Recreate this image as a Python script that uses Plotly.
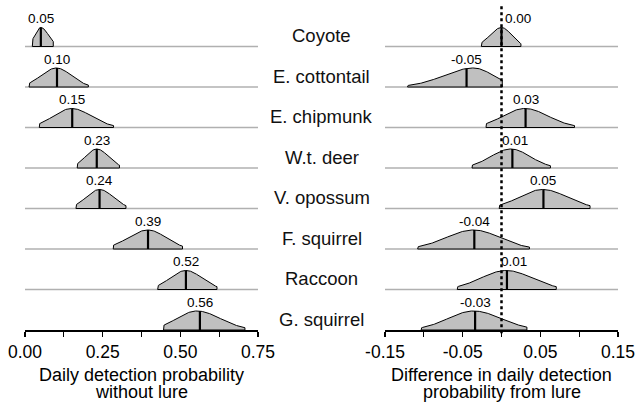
import numpy as np
import plotly.graph_objects as go

# ---------------- data ----------------
species = ["Coyote", "E. cottontail", "E. chipmunk", "W.t. deer",
           "V. opossum", "F. squirrel", "Raccoon", "G. squirrel"]

# left panel: daily detection probability without lure
base_median = [0.051, 0.103, 0.152, 0.231, 0.240, 0.396, 0.518, 0.563]
base_mode = [0.051, 0.101, 0.150, 0.231, 0.240, 0.396, 0.518, 0.553]
base_lo = [0.0235, 0.013, 0.046, 0.168, 0.164, 0.284, 0.427, 0.446]
base_hi = [0.091, 0.204, 0.285, 0.304, 0.325, 0.507, 0.618, 0.708]
base_end_l = [0.35, 0.20, 0.20, 0.22, 0.20, 0.20, 0.20, 0.25]
base_end_r = [0.26, 0.10, 0.10, 0.15, 0.15, 0.15, 0.15, 0.12]
base_labels = ["0.05", "0.10", "0.15", "0.23", "0.24", "0.39", "0.52", "0.56"]

# right panel: difference in daily detection probability from lure
diff_median = [0.000, -0.045, 0.031, 0.014, 0.054, -0.035, 0.007, -0.034]
diff_mode = [0.000, -0.036, 0.030, 0.012, 0.053, -0.036, 0.006, -0.036]
diff_lo = [-0.026, -0.121, -0.020, -0.038, -0.003, -0.108, -0.057, -0.1035]
diff_hi = [0.025, 0.001, 0.094, 0.063, 0.114, 0.036, 0.0705, 0.0327]
diff_end_l = [0.20, 0.08, 0.20, 0.15, 0.17, 0.12, 0.15, 0.12]
diff_end_r = [0.15, 0.35, 0.10, 0.12, 0.15, 0.10, 0.15, 0.15]
diff_labels = ["0.00", "-0.05", "0.03", "0.01", "0.05", "-0.04", "0.01", "-0.03"]

left_ticks = [0, 0.125, 0.25, 0.375, 0.5, 0.625, 0.75]
left_ticktext = ["0.00", "", "0.25", "", "0.50", "", "0.75"]
right_ticks = [-0.15, -0.10, -0.05, 0.0, 0.05, 0.10, 0.15]
right_ticktext = ["-0.15", "", "-0.05", "", "0.05", "", "0.15"]

# ---------------- styling ----------------
FONT = "Liberation Sans, Arial, sans-serif"
FILL = "#c0c0c0"
BASE = "#b0b0b0"
H = 0.47  # peak height in row units
N = len(species)
# label nudges (px) so labels clear the dotted zero line
base_label_dx = [0] * N
diff_label_dx = [16, 0, 0, 3, 0, 0, 7, 0]


def ridge(lo, hi, mode, rl, rr, n=160):
    kl = np.sqrt(-2 * np.log(rl))
    kr = np.sqrt(-2 * np.log(rr))
    sl = (mode - lo) / kl
    sr = (hi - mode) / kr
    x = np.linspace(lo, hi, n)
    z = np.where(x < mode, (x - mode) / sl, (x - mode) / sr)
    d = np.exp(-0.5 * z ** 2)
    return x, d, (sl, sr)


def dens_at(v, mode, s):
    sl, sr = s
    z = (v - mode) / (sl if v < mode else sr)
    return float(np.exp(-0.5 * z ** 2))


fig = go.Figure()
shapes = []
annotations = []

panels = [
    ("x", "y", base_median, base_mode, base_lo, base_hi, base_end_l, base_end_r, base_labels,
     base_label_dx, (0, 0.75)),
    ("x2", "y2", diff_median, diff_mode, diff_lo, diff_hi, diff_end_l, diff_end_r, diff_labels,
     diff_label_dx, (-0.15, 0.15)),
]

for xa, ya, med, mode, lo, hi, el, er, labs, ldx, xr in panels:
    for i in range(N):
        yb = N - 1 - i
        if yb > 0:
            shapes.append(dict(type="line", xref=xa, yref=ya, x0=xr[0], x1=xr[1],
                               y0=yb, y1=yb, layer="below",
                               line=dict(color=BASE, width=1.3)))
        x, d, s = ridge(lo[i], hi[i], mode[i], el[i], er[i])
        px = np.concatenate([[lo[i]], x, [hi[i], lo[i]]])
        py = np.concatenate([[yb], yb + H * d, [yb, yb]])
        fig.add_trace(go.Scatter(x=px, y=py, xaxis=xa, yaxis=ya, mode="lines",
                                 fill="toself", fillcolor=FILL,
                                 line=dict(color="black", width=1),
                                 hoverinfo="skip", showlegend=False))
        hm = H * dens_at(med[i], mode[i], s)
        fig.add_trace(go.Scatter(x=[med[i], med[i]], y=[yb, yb + hm], xaxis=xa, yaxis=ya,
                                 mode="lines", line=dict(color="black", width=2.2),
                                 hoverinfo="skip", showlegend=False))
        annotations.append(dict(x=med[i], y=yb + H, xref=xa, yref=ya, text=labs[i],
                                showarrow=False, xanchor="center", yanchor="bottom",
                                yshift=-1, xshift=ldx[i],
                                font=dict(family=FONT, size=13.5, color="black")))

shapes.append(dict(type="line", xref="x2", yref="paper", x0=0, x1=0, y0=-0.01, y1=1,
                   line=dict(color="black", width=2.5, dash="3px,3px")))

for i, sp in enumerate(species):
    yb = N - 1 - i
    annotations.append(dict(x=0.5, xref="paper", y=yb, yref="y", text=sp,
                            showarrow=False, xanchor="center", yanchor="middle", yshift=11,
                            font=dict(family=FONT, size=18.5, color="#111")))

for xc, l1, l2 in [(0.1964, "Daily detection probability", "without lure"),
                   (0.8036, "Difference in daily detection", "probability from lure")]:
    annotations.append(dict(x=xc, xref="paper", y=0, yref="paper", text=l1, showarrow=False,
                            xanchor="center", yanchor="middle", yshift=-45,
                            font=dict(family=FONT, size=18, color="black")))
    annotations.append(dict(x=xc, xref="paper", y=0, yref="paper", text=l2, showarrow=False,
                            xanchor="center", yanchor="middle", yshift=-62,
                            font=dict(family=FONT, size=18, color="black")))

axis_common = dict(showgrid=False, zeroline=False, showline=True, linecolor="black",
                   linewidth=1.5, ticks="outside", ticklen=5, tickwidth=1.3,
                   tickcolor="black", tickfont=dict(family=FONT, size=17.5, color="black"),
                   ticklabeloverflow="allow",
                   fixedrange=True, automargin=False)

yr = [0, 8.025]
fig.update_layout(
    template="none",
    width=636, height=415,
    margin=dict(l=25, r=18, t=5, b=85, autoexpand=False),
    paper_bgcolor="white", plot_bgcolor="white",
    showlegend=False,
    hovermode=False,
    xaxis=dict(domain=[0, 0.3929], range=[0, 0.75], tickmode="array",
               tickvals=left_ticks, ticktext=left_ticktext, anchor="y", **axis_common),
    xaxis2=dict(domain=[0.6071, 1], range=[-0.15, 0.15], tickmode="array",
                tickvals=right_ticks, ticktext=right_ticktext, anchor="y2", **axis_common),
    yaxis=dict(domain=[0, 1], range=yr, visible=False, anchor="x", fixedrange=True,
               automargin=False),
    yaxis2=dict(domain=[0, 1], range=yr, visible=False, anchor="x2", fixedrange=True,
                automargin=False),
    shapes=shapes,
    annotations=annotations,
)

# remove the default page margin so the 636x415 figure fills the window exactly
fig.write_html("out.html",
               config={"displayModeBar": False, "staticPlot": True},
               post_script="document.body.style.margin='0';"
                           "document.body.style.overflow='hidden';")
